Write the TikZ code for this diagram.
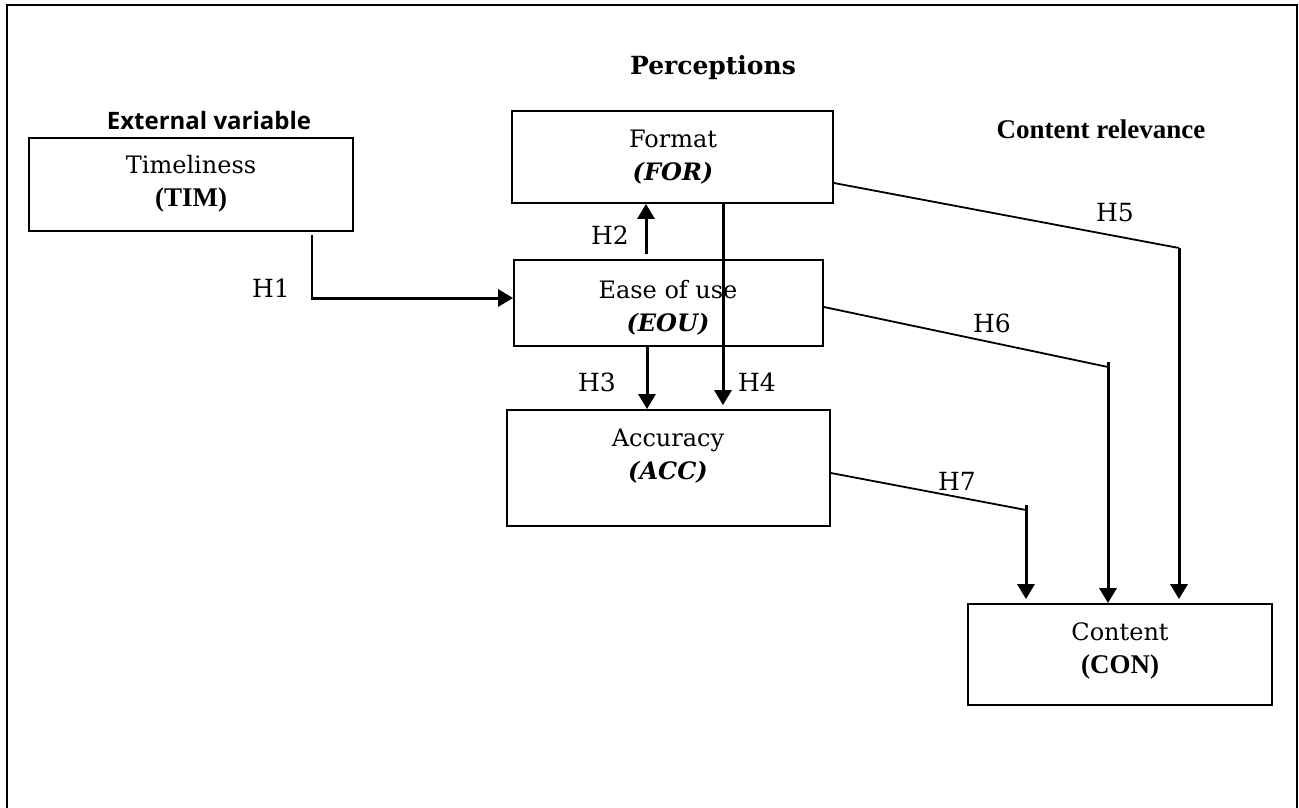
\documentclass[tikz,border=0pt]{standalone}
\usepackage{fontspec}
\setmainfont{DejaVu Serif}
\newfontfamily\headsans{Open Sans}
\newfontfamily\headserif{Liberation Serif}
\usetikzlibrary{arrows.meta,calc}

\tikzset{
  x=1pt, y=-1pt,
  frame/.style={line width=2pt},
  box/.style={draw, line width=1.8pt, inner sep=0pt},
  boxtext/.style={align=center, inner sep=0pt, font=\fontsize{24}{33}\selectfont},
  hlabel/.style={inner sep=0pt, font=\fontsize{25}{30}\selectfont},
  link/.style={line width=1.8pt},
  arrowlink/.style={line width=3pt, -{Triangle[length=15pt,width=17pt]}},
}

\begin{document}
\begin{tikzpicture}
\useasboundingbox (0,0) rectangle (1299,808);

% open frame (no bottom edge)
\draw[frame] (7,810) -- (7,5.5) -- (1297,5.5) -- (1297,810);

% group headings
\node[inner sep=0pt, font=\headsans\bfseries\fontsize{24}{28}\selectfont] (hext) at (209,120) {External variable};
\node[inner sep=0pt, font=\bfseries\fontsize{25}{28}\selectfont] (hper) at (713,68) {Perceptions};
\node[inner sep=0pt, font=\headserif\bfseries\fontsize{27}{30}\selectfont] (hrel) at (1101,129) {Content relevance};

% construct boxes
\node[box, minimum width=324pt, minimum height=93pt] (tim) at (191,184.5) {};
\node[box, minimum width=321pt, minimum height=92pt] (for) at (672.5,157) {};
\node[box, minimum width=309pt, minimum height=86pt] (eou) at (668.5,303) {};
\node[box, minimum width=323pt, minimum height=116pt] (acc) at (668.5,468) {};
\node[box, minimum width=304pt, minimum height=101pt] (con) at (1120,654.5) {};

% box texts
\node[boxtext] (timt) at (191,184) {Timeliness\\{\headserif\bfseries\fontsize{27}{33}\selectfont (TIM)}};
\node[boxtext] (fort) at (673,157) {Format\\\textbf{\textit{(FOR)}}};
\node[boxtext] (eout) at (668,308) {Ease of use\\\textbf{\textit{(EOU)}}};
\node[boxtext] (acct) at (668,456) {Accuracy\\\textbf{\textit{(ACC)}}};
\node[boxtext] (cont) at (1120,651) {Content\\{\headserif\bfseries\fontsize{27}{33}\selectfont (CON)}};

% bend points
\coordinate (h1b) at (312,298);
\coordinate (h5b) at (1179,248);
\coordinate (h6b) at (1108,367);
\coordinate (h7b) at (1026,510);

% H1: timeliness -> ease of use
\draw[link] ([yshift=-3pt]tim.south -| h1b) -- (h1b);
\draw[arrowlink] ([xshift=-1pt]h1b) -- (eou.west |- h1b);
% H2: ease of use -> format
\draw[arrowlink] ([yshift=5pt]eou.north -| 646,0) -- (for.south -| 646,0);
% H3: ease of use -> accuracy
\draw[arrowlink] (eou.south -| 647,0) -- (acc.north -| 647,0);
% H4: format -> accuracy
\draw[arrowlink] (for.south -| 723,0) -- ([yshift=4pt]acc.north -| 723,0);
% H5: format -> content
\draw[link] (for.east |- 0,183) -- (h5b);
\draw[arrowlink] (h5b) -- ([yshift=4pt]con.north -| h5b);
% H6: ease of use -> content
\draw[link] (eou.east |- 0,307) -- (h6b);
\draw[arrowlink] ([yshift=5pt]h6b) -- (con.north -| h6b);
% H7: accuracy -> content
\draw[link] (acc.east |- 0,473) -- (h7b);
\draw[arrowlink] ([yshift=5pt]h7b) -- ([yshift=4pt]con.north -| h7b);

% hypothesis labels
\node[hlabel] (l1) at (271,288) {H1};
\node[hlabel] (l2) at (610,235) {H2};
\node[hlabel] (l3) at (597,382) {H3};
\node[hlabel] (l4) at (757,382) {H4};
\node[hlabel] (l5) at (1115,213) {H5};
\node[hlabel] (l6) at (992,323) {H6};
\node[hlabel] (l7) at (957,481) {H7};
\end{tikzpicture}
\end{document}
